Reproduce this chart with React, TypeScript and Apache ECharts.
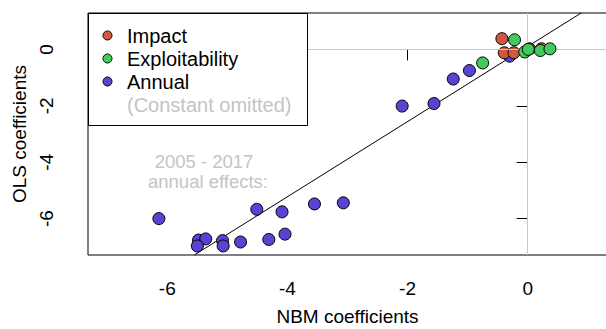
import React, { useEffect, useRef } from "react";
import * as echarts from "echarts";

// Data
const impactX = [-0.43, -0.39, -0.23, 0.03, 0.23];
const impactY = [0.38, -0.12, -0.12, 0.02, 0.02];
const exploitX = [-0.75, -0.22, -0.05, 0.01, 0.21, 0.37];
const exploitY = [-0.48, 0.34, -0.09, 0.0, -0.04, 0.02];
const annualX = [-6.14, -5.48, -5.36, -5.5, -5.08, -5.07, -4.78, -4.51, -4.31, -4.09, -4.04, -3.55, -3.07, -2.09, -1.56, -1.24, -0.97, -0.3];
const annualY = [-6.0, -6.76, -6.72, -6.97, -6.78, -6.97, -6.83, -5.67, -6.74, -5.76, -6.55, -5.48, -5.44, -2.01, -1.92, -1.05, -0.75, -0.24];
// fitted line, two points
const fitX = [-5.55, 0.89];
const fitY = [-7.29, 1.29];

const xTicks = [-6, -4, -2, 0];
const yTicks = [-6, -4, -2, 0];

const legendNames = ["Impact", "Exploitability", "Annual"];
const colors = ["#D1573E", "#43C85F", "#5844D2"];
const FONT = "Liberation Sans";

const zip = (xs: number[], ys: number[]) => xs.map((x, i) => [x, ys[i]]);

export default function App() {
  const ref = useRef<HTMLDivElement>(null);
  useEffect(() => {
    if (!ref.current) return;
    const chart = echarts.init(ref.current, null, { renderer: "svg" });
    const pointStyle = (c: string) => ({ color: c, borderColor: "#000", borderWidth: 1, opacity: 1 });
    const legendY = [35.5, 58.5, 81.5];
    const graphics: any[] = [
      {
        type: "rect",
        shape: { x: 88.5, y: 13.5, width: 219, height: 112 },
        style: { fill: "#fff", stroke: "#000", lineWidth: 1 },
        z: 100,
      },
    ];
    legendNames.forEach((n, i) => {
      graphics.push({
        type: "circle",
        shape: { cx: 107.5, cy: legendY[i], r: 4.5 },
        style: { fill: colors[i], stroke: "#000", lineWidth: 1 },
        z: 101,
      });
      graphics.push({
        type: "text",
        x: 127,
        y: legendY[i],
        style: { text: n, fill: "#000", font: `20px "${FONT}"`, verticalAlign: "middle", textAlign: "left" },
        z: 101,
      });
    });
    graphics.push({
      type: "text",
      x: 127,
      y: 104.5,
      style: { text: "(Constant omitted)", fill: "#c4c4c4", font: `20px "${FONT}"`, verticalAlign: "middle", textAlign: "left" },
      z: 101,
    });
    graphics.push({
      type: "text",
      x: 204,
      y: 161,
      style: { text: "2005 - 2017", fill: "#c4c4c4", font: `18.5px "${FONT}"`, verticalAlign: "middle", textAlign: "center" },
      z: 101,
    });
    graphics.push({
      type: "text",
      x: 208,
      y: 181,
      style: { text: "annual effects:", fill: "#c4c4c4", font: `18.5px "${FONT}"`, verticalAlign: "middle", textAlign: "center" },
      z: 101,
    });

    chart.setOption({
      animation: false,
      backgroundColor: "#fff",
      textStyle: { fontFamily: FONT },
      grid: {
        left: 88,
        top: 13,
        width: 519,
        height: 242,
        show: true,
        borderColor: "#000",
        borderWidth: 1,
        containLabel: false,
        outerBoundsMode: "none",
      },
      xAxis: {
        type: "value",
        min: -7.32,
        max: 1.32,
        splitLine: { show: false },
        axisLine: { show: false },
        axisTick: { show: true, length: 11, customValues: xTicks, lineStyle: { color: "#000", width: 1 } },
        axisLabel: { customValues: xTicks, fontSize: 19, color: "#000", margin: 24, fontFamily: FONT },
        name: "NBM coefficients",
        nameLocation: "middle",
        nameGap: 52,
        nameTextStyle: { fontSize: 19, color: "#000", fontFamily: FONT },
      },
      yAxis: {
        type: "value",
        min: -7.29,
        max: 1.29,
        splitLine: { show: false },
        axisLine: { show: false },
        axisTick: { show: true, length: 11, customValues: yTicks, lineStyle: { color: "#000", width: 1 } },
        axisLabel: { customValues: yTicks, fontSize: 19, color: "#000", margin: 32, rotate: 90, fontFamily: FONT },
        name: "OLS coefficients",
        nameLocation: "middle",
        nameGap: 55,
        nameTextStyle: { fontSize: 19, color: "#000", fontFamily: FONT },
      },
      graphic: graphics,
      series: [
        {
          type: "line",
          data: [],
          silent: true,
          z: 1,
          markLine: {
            silent: true,
            symbol: "none",
            label: { show: false },
            lineStyle: { color: "#c8c8c8", width: 1, type: "solid" },
            data: [{ xAxis: 0 }, { yAxis: 0 }],
          },
        },
        {
          type: "line",
          data: zip(fitX, fitY),
          symbol: "none",
          lineStyle: { color: "#000", width: 1 },
          silent: true,
          z: 2,
        },
        {
          name: "Annual",
          type: "scatter",
          data: zip(annualX, annualY),
          symbolSize: 12,
          itemStyle: pointStyle(colors[2]),
          z: 3,
        },
        {
          name: "Impact",
          type: "scatter",
          data: zip(impactX, impactY),
          symbolSize: 12,
          itemStyle: pointStyle(colors[0]),
          z: 4,
        },
        {
          name: "Exploitability",
          type: "scatter",
          data: zip(exploitX, exploitY),
          symbolSize: 12,
          itemStyle: pointStyle(colors[1]),
          z: 5,
        },
      ],
    });
    return () => chart.dispose();
  }, []);
  return <div ref={ref} style={{ position: "fixed", left: 0, top: 0, width: 606, height: 329, background: "#fff" }} />;
}
